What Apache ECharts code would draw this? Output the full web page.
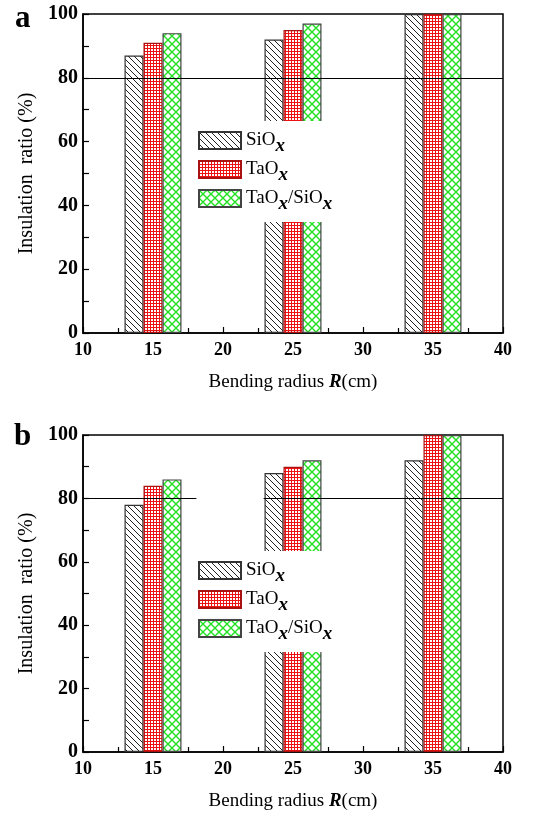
<!DOCTYPE html>
<html>
<head>
<meta charset="utf-8">
<script src="https://cdn.jsdelivr.net/npm/echarts@6/dist/echarts.min.js"></script>
<style>html,body{margin:0;padding:0;background:#fff}#c{width:543px;height:816px}</style>
</head>
<body>
<div id="c"></div>
<script>
// ---- data ----
const radii = [15, 25, 35];
const seriesNames = ['SiOx', 'TaOx', 'TaOx/SiOx'];
const panelA_SiOx = [87, 92, 100];
const panelA_TaOx = [91, 95, 100];
const panelA_TaOxSiOx = [94, 97, 100];
const panelB_SiOx = [78, 88, 92];
const panelB_TaOx = [84, 90, 100];
const panelB_TaOxSiOx = [86, 92, 100];
const refLevel = 80;
const refSegmentsA = [[10, 40]];
const refSegmentsB = [[10, 18.1], [22.9, 40]];
const xTicks = [10, 40, 5];
const yTicks = [0, 100, 20];

// ---- patterns ----
function mkCanvas(w, h, draw) {
  const c = document.createElement('canvas');
  c.width = w; c.height = h;
  const g = c.getContext('2d');
  g.fillStyle = '#fff'; g.fillRect(0, 0, w, h);
  draw(g, w, h);
  return c;
}
const hatch = mkCanvas(6, 6, (g, w, h) => {
  g.strokeStyle = '#222'; g.lineWidth = 1;
  g.beginPath();
  g.moveTo(-1, -1); g.lineTo(w + 1, h + 1);
  g.moveTo(-1, h - 1); g.lineTo(1, h + 1);
  g.moveTo(w - 1, -1); g.lineTo(w + 1, 1);
  g.stroke();
});
const grid = mkCanvas(3, 3, (g) => {
  g.fillStyle = '#ee1111';
  g.fillRect(0, 0, 3, 1);
  g.fillRect(0, 0, 1, 3);
});
const cross = mkCanvas(8, 8, (g, w, h) => {
  g.strokeStyle = '#22e022'; g.lineWidth = 1.4;
  g.beginPath();
  g.moveTo(-1, -1); g.lineTo(w + 1, h + 1);
  g.moveTo(w + 1, -1); g.lineTo(-1, h + 1);
  g.stroke();
});
const fills = [
  { color: { image: hatch, repeat: 'repeat' }, border: '#333' },
  { color: { image: grid, repeat: 'repeat' }, border: '#aa1111' },
  { color: { image: cross, repeat: 'repeat' }, border: '#444' }
];

const serif = 'Liberation Serif';
const chart = echarts.init(document.getElementById('c'), null, { renderer: 'canvas' });

function xAxisCfg(gridIndex) {
  return {
    type: 'value', gridIndex, min: xTicks[0], max: xTicks[1], interval: xTicks[2],
    axisLine: { show: true, onZero: false, lineStyle: { color: '#000', width: 1.5 } },
    axisTick: { show: true, inside: true, length: 6, lineStyle: { color: '#000', width: 1.2 } },
    minorTick: { show: true, splitNumber: 2, length: 5, lineStyle: { color: '#000', width: 1.2 } },
    splitLine: { show: false },
    axisLabel: { color: '#000', fontFamily: serif, fontWeight: 'bold', fontSize: 18, margin: 8 },
    name: '{n|Bending radius }{b|R}{n|(cm)}',
    nameLocation: 'middle', nameGap: 40,
    nameTextStyle: {
      rich: {
        n: { fontFamily: serif, fontSize: 19, color: '#000' },
        b: { fontFamily: serif, fontSize: 19, fontWeight: 'bold', fontStyle: 'italic', color: '#000' }
      }
    }
  };
}
function yAxisCfg(gridIndex) {
  return {
    type: 'value', gridIndex, min: yTicks[0], max: yTicks[1], interval: yTicks[2],
    axisLine: { show: true, lineStyle: { color: '#000', width: 1.5 } },
    axisTick: { show: true, inside: true, length: 6, lineStyle: { color: '#000', width: 1.2 } },
    minorTick: { show: true, splitNumber: 2, length: 6, lineStyle: { color: '#000', width: 1.2 } },
    splitLine: { show: false },
    axisLabel: { color: '#000', fontFamily: serif, fontWeight: 'bold', fontSize: 20, margin: 5 },
    name: 'Insulation  ratio (%)',
    nameLocation: 'middle', nameGap: 46, nameRotate: 90,
    nameTextStyle: { fontFamily: serif, fontSize: 20, color: '#000' }
  };
}

function barSeries(panel, values, idx, refSegs) {
  const s = {
    type: 'bar', name: seriesNames[idx], xAxisIndex: panel, yAxisIndex: panel,
    data: radii.map((r, i) => [r, values[i]]),
    barWidth: 19, barGap: '0%',
    itemStyle: { color: fills[idx].color, borderColor: fills[idx].border, borderWidth: 1.2 },
    emphasis: { disabled: true },
    animation: false
  };
  if (refSegs) {
    s.markLine = {
      silent: true, symbol: ['none', 'none'], label: { show: false },
      lineStyle: { color: '#000', width: 1, type: 'solid' },
      data: refSegs.map(seg => [{ coord: [seg[0], refLevel] }, { coord: [seg[1], refLevel] }])
    };
  }
  return s;
}

const legendRich = {
  n: { fontFamily: serif, fontSize: 19, color: '#000', lineHeight: 20, verticalAlign: 'middle' },
  s: { fontFamily: serif, fontSize: 19, fontStyle: 'italic', fontWeight: 'bold', color: '#000', lineHeight: 16, verticalAlign: 'middle', padding: [12, 0, 0, 0] }
};
function legendFmt(name) {
  if (name === 'SiOx') return '{n|SiO}{s|x}';
  if (name === 'TaOx') return '{n|TaO}{s|x}';
  return '{n|TaO}{s|x}{n|/SiO}{s|x}';
}
function legendCfg(top) {
  return {
    orient: 'vertical', left: 188, top: top, z: 10,
    backgroundColor: '#fff', padding: [4, 6, 8, 10],
    itemWidth: 42, itemHeight: 17, itemGap: -2,
    icon: 'rect',
    data: seriesNames,
    formatter: legendFmt,
    textStyle: { rich: legendRich },
    selectedMode: false
  };
}

const option = {
  animation: false,
  backgroundColor: '#fff',
  grid: [
    { left: 83, top: 14, width: 420, height: 319, show: true, borderColor: '#000', borderWidth: 1.5, backgroundColor: 'transparent' },
    { left: 83, top: 435, width: 420, height: 317, show: true, borderColor: '#000', borderWidth: 1.5, backgroundColor: 'transparent' }
  ],
  xAxis: [xAxisCfg(0), xAxisCfg(1)],
  yAxis: [yAxisCfg(0), yAxisCfg(1)],
  legend: [legendCfg(121), legendCfg(551)],
  graphic: [
    { type: 'text', left: 15, top: 3, style: { text: 'a', fontFamily: serif, fontWeight: 'bold', fontSize: 31, fill: '#000' } },
    { type: 'text', left: 14, top: 421, style: { text: 'b', fontFamily: serif, fontWeight: 'bold', fontSize: 31, fill: '#000' } }
  ],
  series: [
    barSeries(0, panelA_SiOx, 0),
    barSeries(0, panelA_TaOx, 1, refSegmentsA),
    barSeries(0, panelA_TaOxSiOx, 2),
    barSeries(1, panelB_SiOx, 0),
    barSeries(1, panelB_TaOx, 1, refSegmentsB),
    barSeries(1, panelB_TaOxSiOx, 2)
  ]
};
chart.setOption(option);
</script>
</body>
</html>
